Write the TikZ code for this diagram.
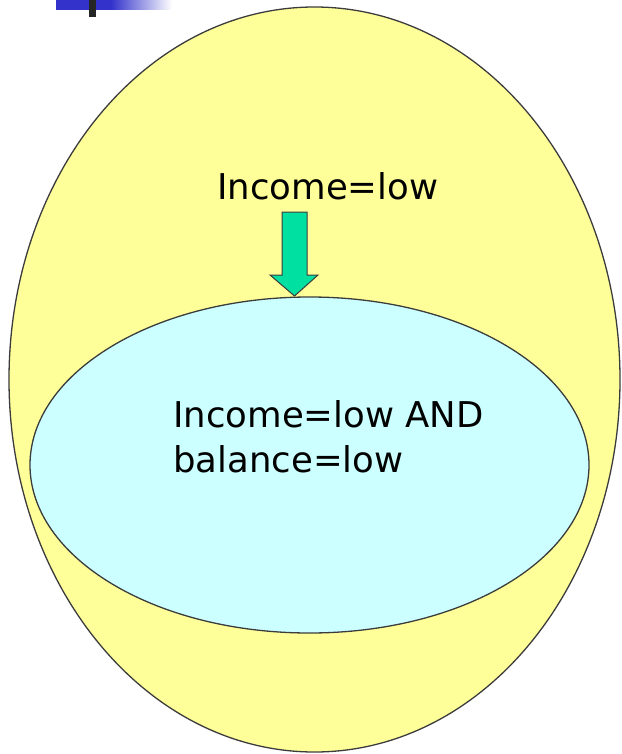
\documentclass[tikz,border=0pt]{standalone}
\usepackage{fontspec}
\setmainfont{DejaVu Sans}
\usetikzlibrary{shapes.geometric}
\definecolor{outerfill}{RGB}{255,255,153}
\definecolor{innerfill}{RGB}{204,255,255}
\definecolor{arrowfill}{RGB}{0,224,160}
\definecolor{edgegray}{RGB}{60,60,60}
\definecolor{barblue}{RGB}{51,51,204}
\begin{document}
\begin{tikzpicture}[x=1pt,y=-1pt,
  region/.style={ellipse,draw=edgegray,line width=1.3pt,inner sep=0pt},
  label/.style={inner sep=0pt,font=\fontsize{35.5}{45}\selectfont,text=black}]
\useasboundingbox (0,0) rectangle (621,754);
% top decoration
\fill[barblue] (56,0) rectangle (112,10);
\shade[left color=barblue,right color=white] (111,0) rectangle (172,10);
\fill[black!85] (89,0) rectangle (96,17);
% regions
\node[region,fill=outerfill,minimum width=611pt,minimum height=745pt] (outer) at (314.5,379.5) {};
\node[region,fill=innerfill,minimum width=559pt,minimum height=336pt] (inner) at (309.5,465) {};
% texts
\node[label,anchor=base west] (t1) at (217,199) {Income=low};
\node[label,anchor=north west,align=left] (t2) at (173,400) {Income=low AND\\balance=low};
% block arrow
\draw[fill=arrowfill,draw=edgegray,line width=1pt,line join=miter]
  (282,212) -- (307,212) -- (307,275) -- (318,275) -- (294.5,296)
  -- (270,275) -- (282,275) -- cycle;
\end{tikzpicture}
\end{document}
